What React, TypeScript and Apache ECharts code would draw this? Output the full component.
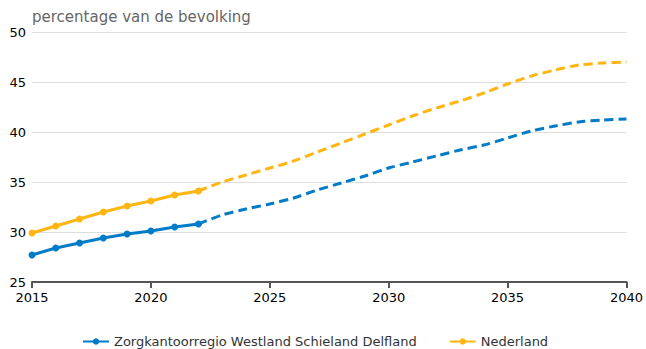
import React, { useEffect, useRef } from "react";
import * as echarts from "echarts";

const histYears = [2015, 2016, 2017, 2018, 2019, 2020, 2021, 2022];
const projYears = [2022, 2023, 2024, 2025, 2026, 2027, 2028, 2029, 2030, 2031, 2032, 2033, 2034, 2035, 2036, 2037, 2038, 2039, 2040];

const regioName = "Zorgkantoorregio Westland Schieland Delfland";
const nlName = "Nederland";

const regioHist = [27.7, 28.4, 28.9, 29.4, 29.8, 30.1, 30.5, 30.8];
const regioProj = [30.8, 31.7, 32.3, 32.8, 33.4, 34.2, 34.9, 35.6, 36.4, 37.0, 37.6, 38.2, 38.7, 39.4, 40.1, 40.6, 41.0, 41.2, 41.3];

const nlHist = [29.9, 30.6, 31.3, 32.0, 32.6, 33.1, 33.7, 34.1];
const nlProj = [34.1, 35.0, 35.7, 36.4, 37.1, 38.0, 38.9, 39.8, 40.7, 41.6, 42.4, 43.1, 43.9, 44.8, 45.6, 46.2, 46.7, 46.9, 47.0];

const yTitle = "percentage van de bevolking";

const BLUE = "#007bc7";
const ORANGE = "#ffb612";
const FONT = "DejaVu Sans";

export default function App() {
  const ref = useRef<HTMLDivElement>(null);
  useEffect(() => {
    if (!ref.current) return;
    const chart = echarts.init(ref.current, undefined, { renderer: "svg" });
    const pair = (xs: number[], ys: number[]) => xs.map((x, i) => [x, ys[i]]);
    chart.setOption({
      animation: false,
      textStyle: { fontFamily: FONT },
      title: {
        text: yTitle,
        left: 27,
        top: 4,
        textStyle: { fontFamily: FONT, fontSize: 15, fontWeight: "normal", color: "#666" },
      },
      grid: { left: 32, right: 19, top: 32, bottom: 67, containLabel: false },
      legend: {
        top: 330,
        left: 77,
        itemWidth: 26,
        itemHeight: 8,
        itemGap: 32,
        textStyle: { fontFamily: FONT, fontSize: 13, color: "#333" },
        data: [regioName, nlName],
      },
      xAxis: {
        type: "value",
        min: 2015,
        max: 2040,
        interval: 5,
        axisLine: { lineStyle: { color: "#555", width: 2 } },
        axisTick: { show: true, length: 6, lineStyle: { color: "#555", width: 2 } },
        axisLabel: { color: "#000", fontSize: 13, fontFamily: FONT, margin: 9, formatter: (v: number) => String(v) },
        splitLine: { show: false },
      },
      yAxis: {
        type: "value",
        min: 25,
        max: 50,
        interval: 5,
        axisLine: { show: false },
        axisTick: { show: false },
        axisLabel: { color: "#000", fontSize: 13, fontFamily: FONT, margin: 6 },
        splitLine: { lineStyle: { color: "#ddd", width: 1 } },
      },
      series: [
        {
          name: regioName,
          type: "line",
          data: pair(histYears, regioHist),
          symbol: "circle",
          symbolSize: 7,
          itemStyle: { color: BLUE },
          lineStyle: { color: BLUE, width: 3 },
          z: 3,
        },
        {
          name: regioName,
          type: "line",
          data: pair(projYears, regioProj),
          symbol: "none",
          smooth: 0.3,
          itemStyle: { color: BLUE },
          lineStyle: { color: BLUE, width: 3, type: [9, 5] },
          z: 3,
        },
        {
          name: nlName,
          type: "line",
          data: pair(histYears, nlHist),
          symbol: "circle",
          symbolSize: 7,
          itemStyle: { color: ORANGE },
          lineStyle: { color: ORANGE, width: 3 },
          z: 2,
        },
        {
          name: nlName,
          type: "line",
          data: pair(projYears, nlProj),
          symbol: "none",
          smooth: 0.3,
          itemStyle: { color: ORANGE },
          lineStyle: { color: ORANGE, width: 3, type: [9, 5] },
          z: 2,
        },
      ],
    });
    return () => chart.dispose();
  }, []);
  return <div ref={ref} style={{ position: "absolute", left: 0, top: 0, width: 646, height: 349 }} />;
}
